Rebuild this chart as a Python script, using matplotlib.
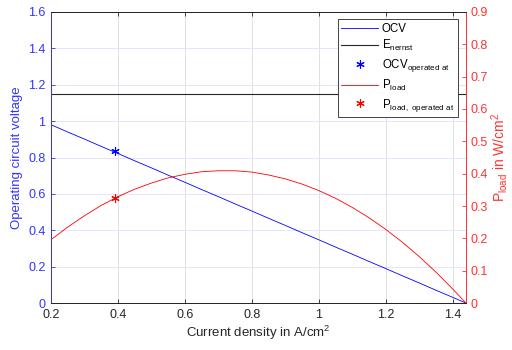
import matplotlib
matplotlib.use("Agg")
import matplotlib.pyplot as plt

plt.rcParams['font.family'] = ['Liberation Sans', 'DejaVu Sans']
plt.rcParams['mathtext.default'] = 'regular'

# Current density (A/cm^2) and voltage/power readings
current = [0.20, 0.25, 0.30, 0.35, 0.40, 0.45, 0.50, 0.55, 0.60, 0.65, 0.70,
           0.75, 0.80, 0.85, 0.90, 0.95, 1.00, 1.05, 1.10, 1.15, 1.20, 1.25,
           1.30, 1.35, 1.40, 1.44]
ocv = [0.980, 0.940, 0.901, 0.861, 0.822, 0.782, 0.743, 0.703, 0.664, 0.624,
       0.585, 0.545, 0.506, 0.466, 0.427, 0.387, 0.348, 0.308, 0.269, 0.229,
       0.190, 0.150, 0.111, 0.071, 0.032, 0.000]
p_load = [0.196, 0.235, 0.270, 0.302, 0.329, 0.352, 0.371, 0.387, 0.398, 0.406,
          0.409, 0.409, 0.405, 0.396, 0.384, 0.368, 0.348, 0.324, 0.296, 0.264,
          0.228, 0.188, 0.144, 0.096, 0.044, 0.000]
e_nernst = 1.147
i_op = 0.39
ocv_op = 0.835
p_op = 0.324

blue = '#3333ff'
red = '#ff3333'
asterisk = (6, 2, 0)

fig = plt.figure(figsize=(5.12, 3.5), dpi=100)
ax = fig.add_axes([0.0996, 0.134, 0.8105, 0.832])
ax2 = ax.twinx()

l1, = ax.plot(current, ocv, color='#0000ff', lw=0.6, label='OCV')
l2 = ax.axhline(e_nernst, color='#262626', lw=0.8, label='E$_{nernst}$')
l3, = ax.plot([i_op], [ocv_op], ls='none', marker=asterisk, color='#0000ff',
              ms=6, markeredgewidth=0.8, label='OCV$_{operated\\ at}$')
l4, = ax2.plot(current, p_load, color='#ff0000', lw=0.6, label='P$_{load}$')
l5, = ax2.plot([i_op], [p_op], ls='none', marker=asterisk, color='#ff0000',
               ms=6, markeredgewidth=0.8, label='P$_{load,\\ operated\\ at}$')

ax.set_xlim(0.2, 1.44)
ax.set_ylim(0, 1.6)
ax2.set_ylim(0, 0.9)
ax.set_xticks([0.2, 0.4, 0.6, 0.8, 1.0, 1.2, 1.4])
ax.set_xticklabels(['0.2', '0.4', '0.6', '0.8', '1', '1.2', '1.4'])
ax.set_yticks([0, 0.2, 0.4, 0.6, 0.8, 1.0, 1.2, 1.4, 1.6])
ax.set_yticklabels(['0', '0.2', '0.4', '0.6', '0.8', '1', '1.2', '1.4', '1.6'])
ax2.set_yticks([0, 0.1, 0.2, 0.3, 0.4, 0.5, 0.6, 0.7, 0.8, 0.9])
ax2.set_yticklabels(['0', '0.1', '0.2', '0.3', '0.4', '0.5', '0.6', '0.7', '0.8', '0.9'])

ax.xaxis.grid(True, color='#e0e0e0', lw=0.7)
ax.yaxis.grid(True, color='#e4e4fb', lw=0.7)
ax.set_axisbelow(True)

ax.tick_params(axis='both', direction='in', labelsize=9, length=3, width=0.6)
ax.tick_params(axis='x', colors='#262626', top=True, pad=4)
ax.tick_params(axis='y', colors=blue, pad=4)
ax2.tick_params(axis='y', direction='in', labelsize=9, length=3, width=0.6,
                colors=red, pad=3)

for a in (ax, ax2):
    a.spines['top'].set_color('#262626')
    a.spines['bottom'].set_color('#262626')
    a.spines['left'].set_color(blue)
    a.spines['right'].set_color(red)
    for s in a.spines.values():
        s.set_linewidth(0.7)

ax.set_xlabel('Current density in A/cm$^2$', fontsize=9.5, color='#262626', labelpad=2)
ax.set_ylabel('Operating circuit voltage', fontsize=9.5, color=blue, labelpad=4)
ax2.set_ylabel('P$_{load}$ in W/cm$^2$', fontsize=10, color=red, labelpad=1)

leg = ax.legend(handles=[l1, l2, l3, l4, l5], loc='upper right',
                bbox_to_anchor=(0.98, 0.975), fontsize=8.3, frameon=True,
                fancybox=False, edgecolor='#262626', framealpha=1,
                handlelength=3.2, handletextpad=0.3, labelspacing=0.32,
                borderpad=0.3, borderaxespad=0)
leg.get_frame().set_linewidth(0.6)
leg.set_zorder(10)

fig.savefig('out.png', dpi=100)
